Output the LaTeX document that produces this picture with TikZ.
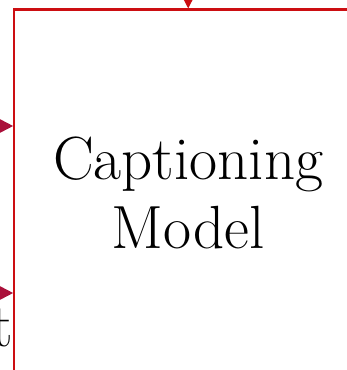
\documentclass[tikz,border=0pt]{standalone}
\usetikzlibrary{arrows.meta}
\definecolor{boxred}{RGB}{204,14,18}
\definecolor{inred}{RGB}{170,16,58}
\tikzset{
  modelbox/.style={draw=boxred, line width=2.2pt, minimum width=347.8pt,
    minimum height=373pt, inner sep=0pt},
  bigfont/.style={font=\fontsize{61}{69}\selectfont},
  bigtext/.style={bigfont, inner sep=0pt, align=center},
  feedred/.style={draw=boxred, line width=2pt,
    -{Triangle[length=15pt,width=15pt]}, color=boxred},
  feedin/.style={draw=inred, line width=2pt,
    -{Triangle[length=15pt,width=15pt]}, color=inred},
}
\begin{document}
\begin{tikzpicture}[x=1pt,y=-1pt]
  \useasboundingbox (0,0) rectangle (347,370);
  \clip (0,0) rectangle (347,370);
  % captioning model block
  \node[modelbox] (box) at (188.2,196) {};
  \node[bigtext] (label) at (188.2,192.6) {Captioning\\Model};
  % incoming connections
  \coordinate (topin) at (188.2,-40);
  \coordinate (inA) at (-40,126);
  \coordinate (inB) at (-40,293);
  \draw[feedred] (topin) -- (topin |- box.north);
  \draw[feedin] (inA) -- (inA -| box.west);
  \draw[feedin] (inB) -- (inB -| box.west);
  % tail of the neighbouring label
  \node[bigfont, inner sep=0pt, anchor=base east] (tail) at (13.5,346) {t};
\end{tikzpicture}
\end{document}
